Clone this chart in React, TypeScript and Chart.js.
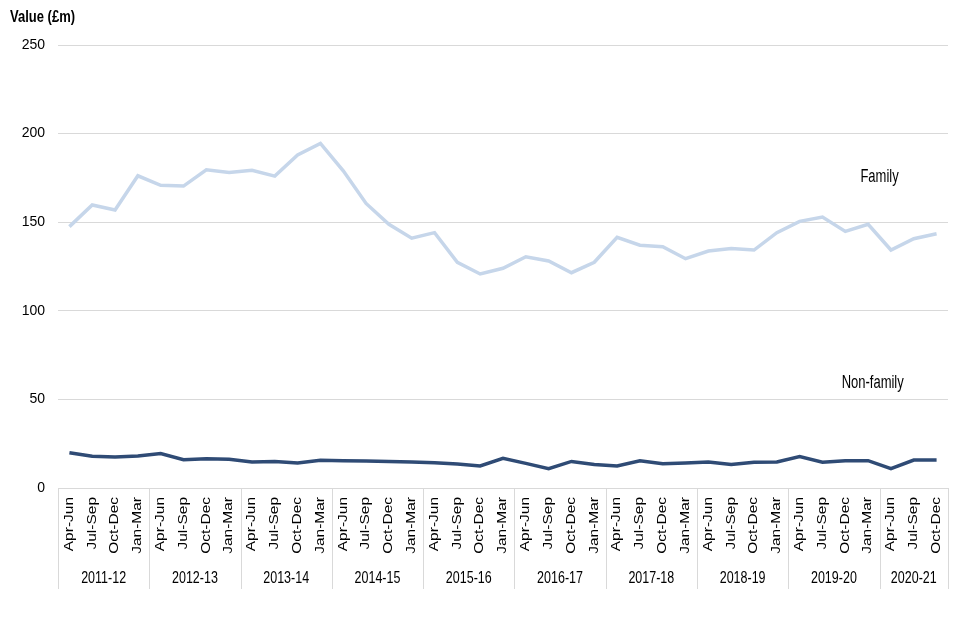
import React, { useEffect, useRef } from "react";
import { Chart, registerables } from "chart.js";

Chart.register(...registerables);

const quarterLabels: string[] = [
  "Apr-Jun", "Jul-Sep", "Oct-Dec", "Jan-Mar",
  "Apr-Jun", "Jul-Sep", "Oct-Dec", "Jan-Mar",
  "Apr-Jun", "Jul-Sep", "Oct-Dec", "Jan-Mar",
  "Apr-Jun", "Jul-Sep", "Oct-Dec", "Jan-Mar",
  "Apr-Jun", "Jul-Sep", "Oct-Dec", "Jan-Mar",
  "Apr-Jun", "Jul-Sep", "Oct-Dec", "Jan-Mar",
  "Apr-Jun", "Jul-Sep", "Oct-Dec", "Jan-Mar",
  "Apr-Jun", "Jul-Sep", "Oct-Dec", "Jan-Mar",
  "Apr-Jun", "Jul-Sep", "Oct-Dec", "Jan-Mar",
  "Apr-Jun", "Jul-Sep", "Oct-Dec",
];

const yearLabels: string[] = [
  "2011-12", "2012-13", "2013-14", "2014-15", "2015-16",
  "2016-17", "2017-18", "2018-19", "2019-20", "2020-21",
];
const quartersPerYear: number[] = [4, 4, 4, 4, 4, 4, 4, 4, 4, 3];

const familyValues: number[] = [
  147.5, 159.7, 156.9, 176.2,
  170.8, 170.4, 179.6, 178.0,
  179.3, 176.0, 187.9, 194.5,
  179.0, 160.6, 148.8, 141.0,
  144.1, 127.4, 120.8, 124.0,
  130.5, 128.1, 121.5, 127.4,
  141.5, 137.0, 136.2, 129.4,
  133.7, 135.2, 134.3, 144.1,
  150.5, 152.9, 144.8, 148.8,
  134.3, 140.7, 143.5,
];

const nonFamilyValues: number[] = [
  19.9, 17.9, 17.5, 18.0,
  19.4, 16.0, 16.5, 16.2,
  14.7, 15.0, 14.1, 15.6,
  15.4, 15.2, 15.0, 14.7,
  14.3, 13.5, 12.4, 16.7,
  13.9, 10.9, 15.0, 13.3,
  12.4, 15.4, 13.7, 14.1,
  14.7, 13.2, 14.5, 14.7,
  17.7, 14.5, 15.4, 15.4,
  10.9, 15.8, 15.8,
];

const yTicks: number[] = [0, 50, 100, 150, 200, 250];

const seriesNames: string[] = ["Family", "Non-family"];
// annotation anchor positions in data space: [category index, value]
const annotationIndex: number[] = [35.5, 35.2];
const annotationValue: number[] = [175.5, 59.3];

const FONT = "'Liberation Sans', Arial, sans-serif";

// draw horizontal text stretched vertically (condensed look)
function drawTall(ctx: CanvasRenderingContext2D, text: string, x: number, y: number, sy: number) {
  ctx.save();
  ctx.translate(x, y);
  ctx.scale(1, sy);
  ctx.fillText(text, 0, 0);
  ctx.restore();
}

const overlayPlugin = {
  id: "overlay",
  afterDraw(chart: any) {
    const ctx = chart.ctx as CanvasRenderingContext2D;
    const x = chart.scales.x;
    const y = chart.scales.y;
    const area = chart.chartArea;
    ctx.save();
    // y-axis title
    ctx.fillStyle = "#000";
    ctx.font = `bold 13px ${FONT}`;
    ctx.textAlign = "left";
    ctx.textBaseline = "middle";
    drawTall(ctx, "Value (£m)", 10, 17, 1.33);

    // quarter labels (rotated, stretched along baseline)
    ctx.font = `12px ${FONT}`;
    ctx.textAlign = "right";
    ctx.textBaseline = "middle";
    for (let i = 0; i < quarterLabels.length; i++) {
      ctx.save();
      ctx.translate(x.getPixelForValue(i), 497);
      ctx.rotate(-Math.PI / 2);
      ctx.scale(1.29, 1);
      ctx.fillText(quarterLabels[i], 0, 0);
      ctx.restore();
    }

    // year separators and labels
    const step = x.getPixelForValue(1) - x.getPixelForValue(0);
    const bottomY = 589;
    ctx.strokeStyle = "#d9d9d9";
    ctx.lineWidth = 1;
    let start = 0;
    ctx.font = `12.5px ${FONT}`;
    ctx.textAlign = "center";
    ctx.textBaseline = "middle";
    const drawSep = (idx: number) => {
      const px = Math.round(x.getPixelForValue(idx) - step / 2) + 0.5;
      ctx.beginPath();
      ctx.moveTo(px, area.bottom);
      ctx.lineTo(px, bottomY);
      ctx.stroke();
    };
    for (let i = 0; i < yearLabels.length; i++) {
      drawSep(start);
      const end = start + quartersPerYear[i];
      const left = x.getPixelForValue(start) - step / 2;
      const right = x.getPixelForValue(end - 1) + step / 2;
      drawTall(ctx, yearLabels[i], (left + right) / 2, 578, 1.33);
      start = end;
    }
    drawSep(start);

    // series annotations
    ctx.font = `13px ${FONT}`;
    for (let i = 0; i < seriesNames.length; i++) {
      drawTall(
        ctx,
        seriesNames[i],
        x.getPixelForValue(annotationIndex[i]),
        y.getPixelForValue(annotationValue[i]),
        1.38
      );
    }
    ctx.restore();
  },
};

export default function App() {
  const ref = useRef<HTMLCanvasElement | null>(null);
  useEffect(() => {
    if (!ref.current) return;
    const chart = new Chart(ref.current, {
      type: "line",
      data: {
        labels: quarterLabels,
        datasets: [
          {
            label: seriesNames[0],
            data: familyValues,
            borderColor: "#c6d6ea",
            borderWidth: 3.5,
            pointRadius: 0,
            tension: 0,
          },
          {
            label: seriesNames[1],
            data: nonFamilyValues,
            borderColor: "#2f4b75",
            borderWidth: 3.5,
            pointRadius: 0,
            tension: 0,
          },
        ],
      },
      options: {
        animation: false,
        responsive: false,
        devicePixelRatio: 1,
        layout: { padding: { top: 45, right: 12, left: 0, bottom: 0 } },
        plugins: {
          legend: { display: false },
          tooltip: { enabled: false },
          title: { display: false },
        },
        scales: {
          x: {
            type: "category",
            offset: true,
            grid: { display: false },
            border: { display: false },
            ticks: { display: false, autoSkip: false },
            afterFit(scale: any) {
              scale.height = 152;
            },
          },
          y: {
            min: 0,
            max: 250,
            afterBuildTicks(scale: any) {
              scale.ticks = yTicks.map((v) => ({ value: v }));
            },
            grid: { color: "#d9d9d9", lineWidth: 1, drawTicks: false },
            border: { display: false },
            ticks: {
              padding: 13,
              color: "#000",
              font: { family: FONT, size: 14 },
            },
            afterFit(scale: any) {
              scale.width = 58;
            },
          },
        },
      },
      plugins: [overlayPlugin],
    });
    return () => chart.destroy();
  }, []);
  return (
    <div style={{ position: "absolute", left: 0, top: 0, width: 960, height: 640, background: "#fff" }}>
      <canvas ref={ref} width={960} height={640} style={{ width: 960, height: 640 }} />
    </div>
  );
}
